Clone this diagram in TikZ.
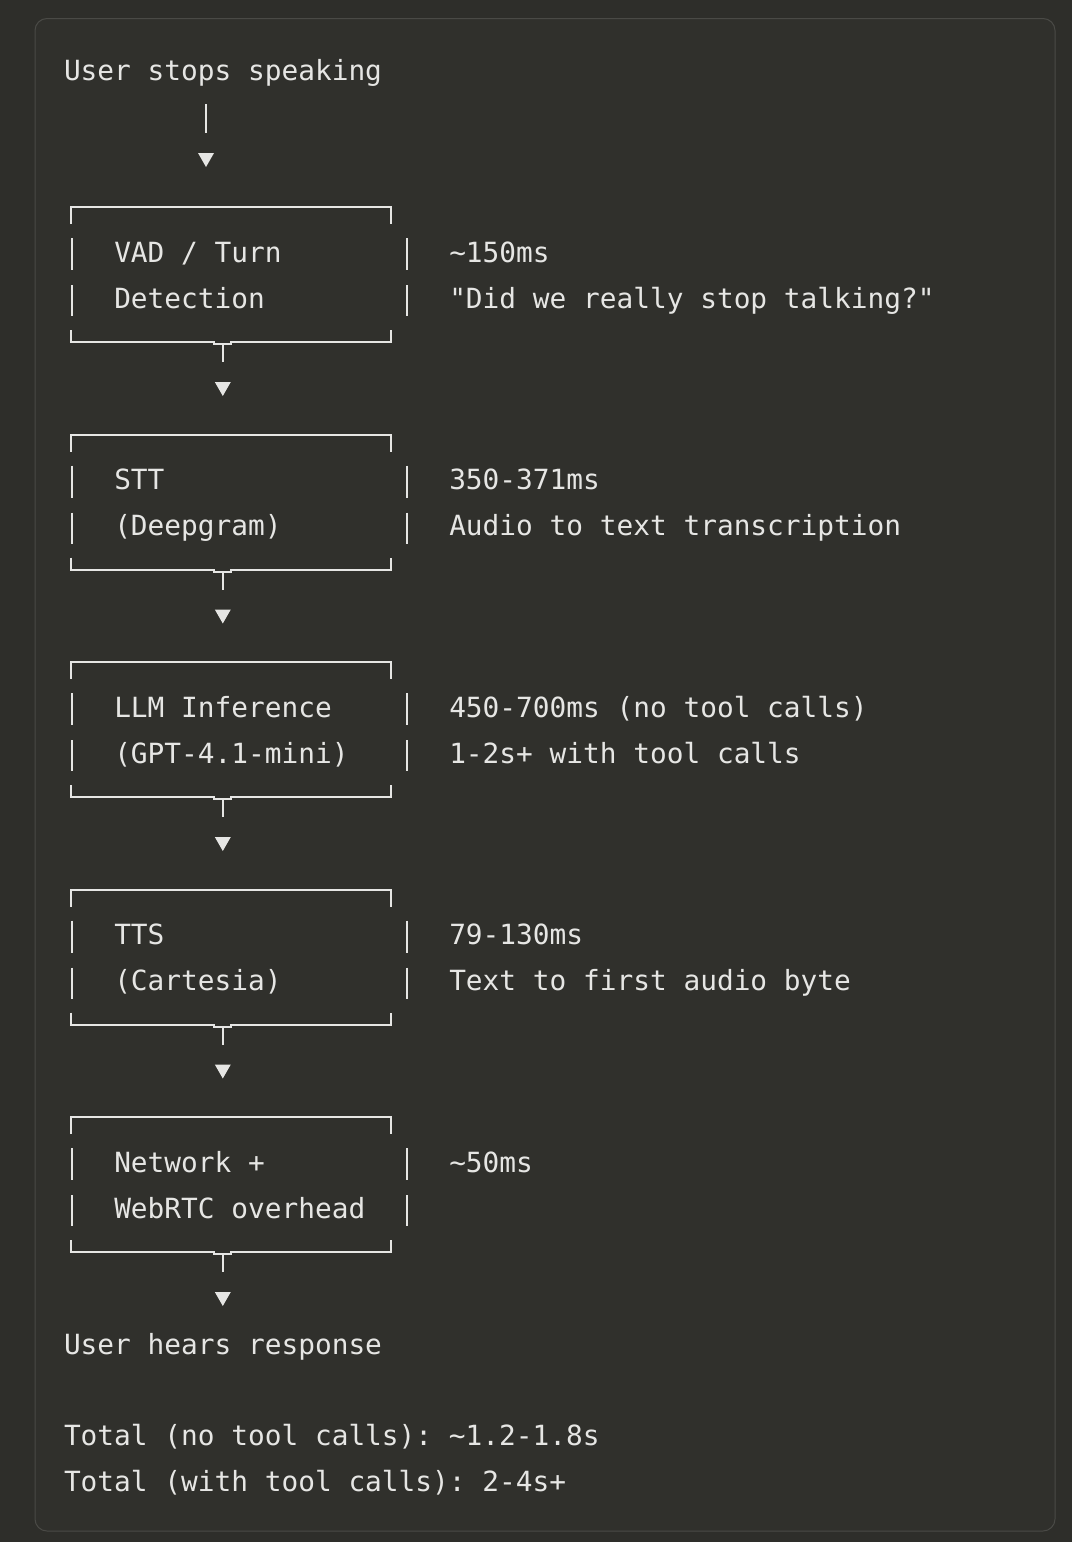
\documentclass[tikz,border=0pt]{standalone}
\usepackage{fontspec}
\setmonofont{DejaVu Sans Mono}
\usetikzlibrary{calc}
\definecolor{outerbg}{HTML}{2E2E2A}
\definecolor{panelbg}{HTML}{30302C}
\definecolor{edgecol}{HTML}{4A4A46}
\definecolor{ink}{HTML}{E6E6E4}
\tikzset{
  txt/.style={anchor=base west, inner sep=0pt, outer sep=0pt, text=ink,
    font=\ttfamily\fontsize{27.8}{45}\selectfont},
  rule/.style={draw=ink, line width=2pt},
  tipfill/.style={fill=ink, draw=none},
  frame/.style={inner sep=0pt, outer sep=0pt, minimum width=320pt,
    minimum height=135pt, draw=none},
}
% #1 name, #2 top y, #3 #4 box lines, #5 #6 notes
\newcommand\stagebox[6]{%
  \node[frame] (#1) at (231,#2+67.5) {};
  \node[txt] (#1-a) at (114.25,#2+55) {#3};
  \node[txt] (#1-b) at (114.25,#2+101) {#4};
  \node[txt] (#1-c) at (449.25,#2+55) {#5};
  \node[txt] (#1-d) at (449.25,#2+101) {#6};
  \draw[rule] ($(#1.north west)+(0,17)$) -- (#1.north west) -- (#1.north east) -- ++(0,17);
  \draw[rule] (72,#2+31) -- (72,#2+63);
  \draw[rule] (72,#2+78) -- (72,#2+109);
  \draw[rule] (407,#2+31) -- (407,#2+63);
  \draw[rule] (407,#2+78) -- (407,#2+109);
  \draw[rule] ($(#1.south west)+(0,-12)$) -- (#1.south west) -- (214,#2+135)
     -- (214,#2+137) -- (231,#2+137) -- (231,#2+135) -- (#1.south east) -- ++(0,-12);
}
% connector from box #1 down to node #2 (tip sits #3 above #2's reference point)
\begin{document}
\begin{tikzpicture}[x=1pt,y=-1pt]
  \useasboundingbox (0,0) rectangle (1072,1542);
  \fill[outerbg] (0,0) rectangle (1072,1542);
  \draw[edgecol, fill=panelbg, line width=1pt, rounded corners=12pt] (35,18.5) rectangle (1055,1531);

  \node[txt] (start) at (64,80) {User stops speaking};

  \stagebox{b1}{207}{VAD / Turn}{Detection}{\textasciitilde150ms}{"Did we really stop talking?"}
  \stagebox{b2}{434.5}{STT}{(Deepgram)}{350-371ms}{Audio to text transcription}
  \stagebox{b3}{662}{LLM Inference}{(GPT-4.1-mini)}{450-700ms (no tool calls)}{1-2s+ with tool calls}
  \stagebox{b4}{889.5}{TTS}{(Cartesia)}{79-130ms}{Text to first audio byte}
  \stagebox{b5}{1117}{Network +}{WebRTC overhead}{\textasciitilde50ms}{}

  \node[txt] (end) at (64,1354) {User hears response};
  \node[txt] (tot1) at (64,1445) {Total (no tool calls): \textasciitilde1.2-1.8s};
  \node[txt] (tot2) at (64,1491) {Total (with tool calls): 2-4s+};

  % start -> b1
  \draw[rule] ($(start.base west)+(142,24)$) -- ++(0,29);
  \fill[tipfill] ($(b1.north)+(-25,-40)$) -- ++(-8,-14) -- ++(16,0) -- cycle;

  % box -> box connectors
  \foreach \a/\b in {b1/b2, b2/b3, b3/b4, b4/b5} {
    \draw[rule] ($(\a.south)+(-8.2,3)$) -- ++(0,17);
    \fill[tipfill] ($(\b.north)+(-8.2,-38.5)$) -- ++(-8,-14) -- ++(16,0) -- cycle;
  }
  % b5 -> end
  \draw[rule] ($(b5.south)+(-8.2,3)$) -- ++(0,17);
  \fill[tipfill] ($(end.base west)+(158.8,-48)$) -- ++(-8,-14) -- ++(16,0) -- cycle;
\end{tikzpicture}
\end{document}
